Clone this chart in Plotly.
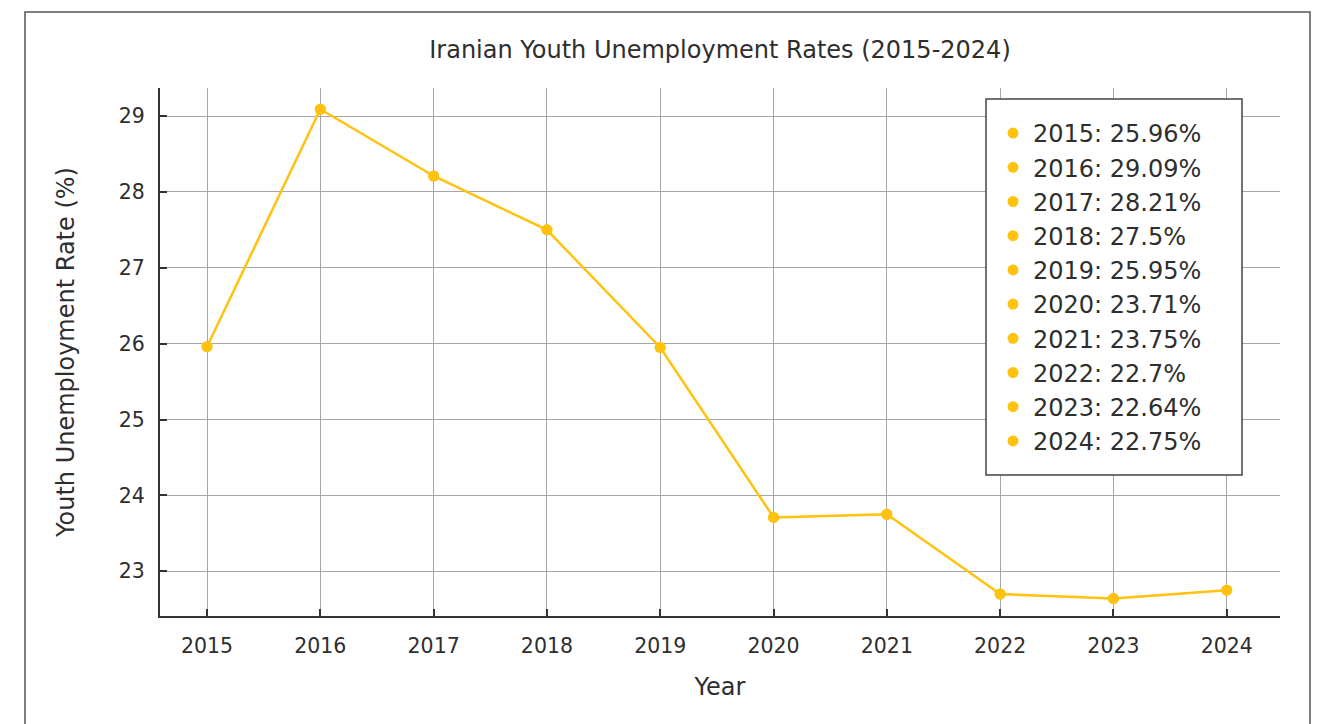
import plotly.graph_objects as go

years = [2015, 2016, 2017, 2018, 2019, 2020, 2021, 2022, 2023, 2024]
rates = [25.96, 29.09, 28.21, 27.5, 25.95, 23.71, 23.75, 22.7, 22.64, 22.75]
y_ticks = [23, 24, 25, 26, 27, 28, 29]

color = "#FFC20E"
font_family = "DejaVu Sans, Open Sans, sans-serif"
text_color = "#2e2e2e"

W, H = 1314, 716  # page body has an 8px margin
PW, PH, PL, PT = 1120, 528, 160, 88  # plot area in screen px


def px_x(x):
    return (x - PL) / PW


def px_y(y):
    return (PT + PH - y) / PH


fig = go.Figure()
fig.add_trace(go.Scatter(
    x=years, y=rates, mode="lines+markers",
    line=dict(color=color, width=2.5),
    marker=dict(color=color, size=11),
    showlegend=False, hoverinfo="skip",
))
for yr, r in zip(years, rates):
    fig.add_trace(go.Scatter(
        x=[yr], y=[r], mode="markers",
        marker=dict(color=color, size=11),
        name=f"{yr}: {r}%",
        showlegend=True,
    ))

fig.update_layout(
    width=W, height=H,
    margin=dict(l=152, r=42, t=80, b=108),
    paper_bgcolor="white", plot_bgcolor="white",
    font=dict(family=font_family, color=text_color, size=20),
    title=dict(text="Iranian Youth Unemployment Rates (2015-2024)",
               x=0.5, xref="paper", y=1 - 42 / H, yref="container",
               yanchor="middle", font=dict(size=24, color=text_color)),
    xaxis=dict(
        range=[2014.585, 2024.47], tickmode="array", tickvals=years,
        ticktext=[str(y) for y in years],
        showgrid=True, gridcolor="#a6a6a6", gridwidth=1,
        showline=True, linecolor="#333", linewidth=2,
        ticks="inside", ticklen=7, tickcolor="#333", tickwidth=2,
        ticklabelstandoff=10, zeroline=False,
        title=dict(text="Year", font=dict(size=24), standoff=22),
        tickfont=dict(size=20.5),
    ),
    yaxis=dict(
        range=[22.41, 29.37], tickmode="array", tickvals=y_ticks,
        showgrid=True, gridcolor="#a6a6a6", gridwidth=1,
        showline=True, linecolor="#333", linewidth=2,
        ticks="inside", ticklen=7, tickcolor="#333", tickwidth=2,
        ticklabelstandoff=9, zeroline=False,
        title=dict(text="Youth Unemployment Rate (%)", font=dict(size=24), standoff=37),
        tickfont=dict(size=20.5),
    ),
    legend=dict(
        x=px_x(993), y=px_y(111), xanchor="left", yanchor="top",
        bgcolor="rgba(0,0,0,0)", borderwidth=0,
        font=dict(size=24, color=text_color),
    ),
    shapes=[
        dict(
            type="rect", xref="paper", yref="paper",
            x0=px_x(25), x1=px_x(1310), y0=-0.3, y1=px_y(12),
            line=dict(color="#555", width=1.5), fillcolor="rgba(0,0,0,0)",
            layer="below",
        ),
        dict(
            type="rect", xref="paper", yref="paper",
            x0=px_x(986), x1=px_x(1242), y0=px_y(475), y1=px_y(99),
            line=dict(color="#444", width=1.5), fillcolor="white",
            layer="above",
        ),
    ],
)

fig.write_html("out.html")
